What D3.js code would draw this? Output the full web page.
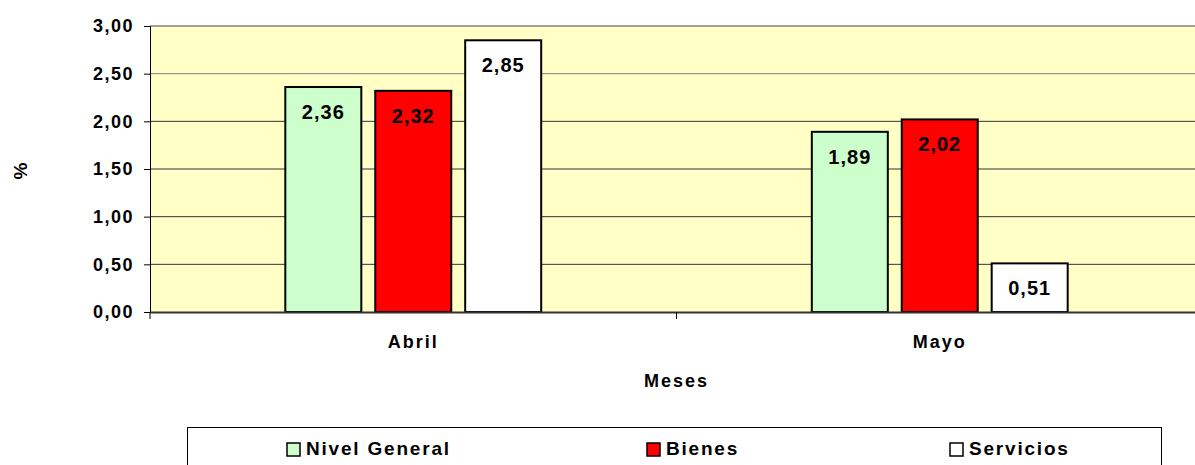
<!DOCTYPE html>
<html>
<head>
<meta charset="utf-8">
<script src="https://cdn.jsdelivr.net/npm/d3@7"></script>
<style>
  body { margin: 0; background: #fff; }
  svg { display: block; font-family: "Liberation Sans", Arial, sans-serif; font-weight: bold; }
</style>
</head>
<body>
<svg id="chart"></svg>
<script>
const months = ['Abril', 'Mayo'];
const series = ['Nivel General', 'Bienes', 'Servicios'];
const colors = ['#CCFFCC', '#FF0000', '#FFFFFF'];
const nivelGeneral = [2.36, 1.89];
const bienes = [2.32, 2.02];
const servicios = [2.85, 0.51];
const yTicks = [0, 0.5, 1, 1.5, 2, 2.5, 3];

const values = [nivelGeneral, bienes, servicios];
const fmt = v => d3.format('.2f')(v).replace('.', ',');

const width = 1195, height = 465;
const margin = {top: 26, right: -8, bottom: 153, left: 150};
const innerW = width - margin.left - margin.right;
const innerH = height - margin.top - margin.bottom;

const svg = d3.select('#chart')
  .attr('width', width)
  .attr('height', height);

const chart = svg.append('g')
  .attr('transform', `translate(${margin.left},${margin.top})`);

const x0 = d3.scaleBand()
  .domain(months)
  .range([0, innerW])
  .paddingInner(0.514)
  .paddingOuter(0.257);

const x1 = d3.scaleBand()
  .domain(series)
  .range([0, x0.bandwidth()])
  .paddingInner(0.155);

const y = d3.scaleLinear()
  .domain([0, 3])
  .range([innerH, 0]);

// plot background
chart.append('rect')
  .attr('width', innerW)
  .attr('height', innerH)
  .attr('fill', '#FFFFC6');

// gridlines
chart.selectAll('.grid')
  .data(yTicks.filter(d => d > 0))
  .enter().append('line')
  .attr('x1', 0)
  .attr('x2', innerW)
  .attr('y1', d => y(d))
  .attr('y2', d => y(d))
  .attr('stroke', d => d >= 2.5 ? '#808080' : '#333')
  .attr('stroke-width', d => d === 3 ? 1.5 : 1);

// y axis
const yAxis = chart.append('g')
  .call(d3.axisLeft(y).tickValues(yTicks).tickSize(6).tickPadding(10).tickFormat(fmt));
yAxis.select('.domain').attr('stroke', '#000').attr('stroke-width', 1);
yAxis.selectAll('.tick text')
  .attr('fill', '#000')
  .style('font-size', '18px')
  .style('letter-spacing', '1.5px');
yAxis.selectAll('.tick line').attr('stroke', '#000');

// bars
const groups = chart.selectAll('.group')
  .data(months)
  .enter().append('g')
  .attr('class', 'group')
  .attr('transform', d => `translate(${x0(d)},0)`);

groups.selectAll('rect')
  .data((m, i) => series.map((s, j) => ({s, v: values[j][i], c: colors[j]})))
  .enter().append('rect')
  .attr('x', d => x1(d.s))
  .attr('y', d => y(d.v))
  .attr('width', x1.bandwidth())
  .attr('height', d => innerH - y(d.v))
  .attr('fill', d => d.c)
  .attr('stroke', '#000')
  .attr('stroke-width', 2);

groups.selectAll('.lbl')
  .data((m, i) => series.map((s, j) => ({s, v: values[j][i]})))
  .enter().append('text')
  .attr('class', 'lbl')
  .attr('x', d => x1(d.s) + x1.bandwidth() / 2)
  .attr('y', d => y(d.v) + 32)
  .attr('text-anchor', 'middle')
  .style('font-size', '20px')
  .style('letter-spacing', '1px')
  .text(d => fmt(d.v));

// x axis
const xAxis = chart.append('g')
  .attr('transform', `translate(0,${innerH})`)
  .call(d3.axisBottom(x0).tickSize(0).tickPadding(23));
xAxis.select('.domain').attr('stroke', '#333').attr('stroke-width', 2);
xAxis.selectAll('.tick text')
  .attr('fill', '#000')
  .style('font-size', '18px')
  .style('letter-spacing', '2px');

// category separators
chart.selectAll('.sep')
  .data([0, x0.step(), 2 * x0.step()])
  .enter().append('line')
  .attr('x1', d => d).attr('x2', d => d)
  .attr('y1', innerH).attr('y2', innerH + 7)
  .attr('stroke', '#000');

// axis titles
svg.append('text')
  .attr('x', margin.left + x0.step())
  .attr('y', 387)
  .attr('text-anchor', 'middle')
  .style('font-size', '18px')
  .style('letter-spacing', '2px')
  .text('Meses');

svg.append('text')
  .attr('transform', 'translate(27,171) rotate(-90)')
  .attr('text-anchor', 'middle')
  .style('font-size', '19px')
  .text('%');

// legend
const legend = svg.append('g');
legend.append('rect')
  .attr('x', 187.5).attr('y', 427.5)
  .attr('width', 974).attr('height', 45)
  .attr('fill', '#fff')
  .attr('stroke', '#000');

const legendX = [287, 647, 950];
const items = legend.selectAll('.item')
  .data(series)
  .enter().append('g')
  .attr('transform', (d, i) => `translate(${legendX[i]},443)`);

items.append('rect')
  .attr('width', 13).attr('height', 13)
  .attr('fill', (d, i) => colors[i])
  .attr('stroke', '#000')
  .attr('stroke-width', 1.5);

items.append('text')
  .attr('x', 19)
  .attr('y', 12)
  .style('font-size', '19px')
  .style('letter-spacing', '1.8px')
  .text(d => d);
</script>
</body>
</html>
